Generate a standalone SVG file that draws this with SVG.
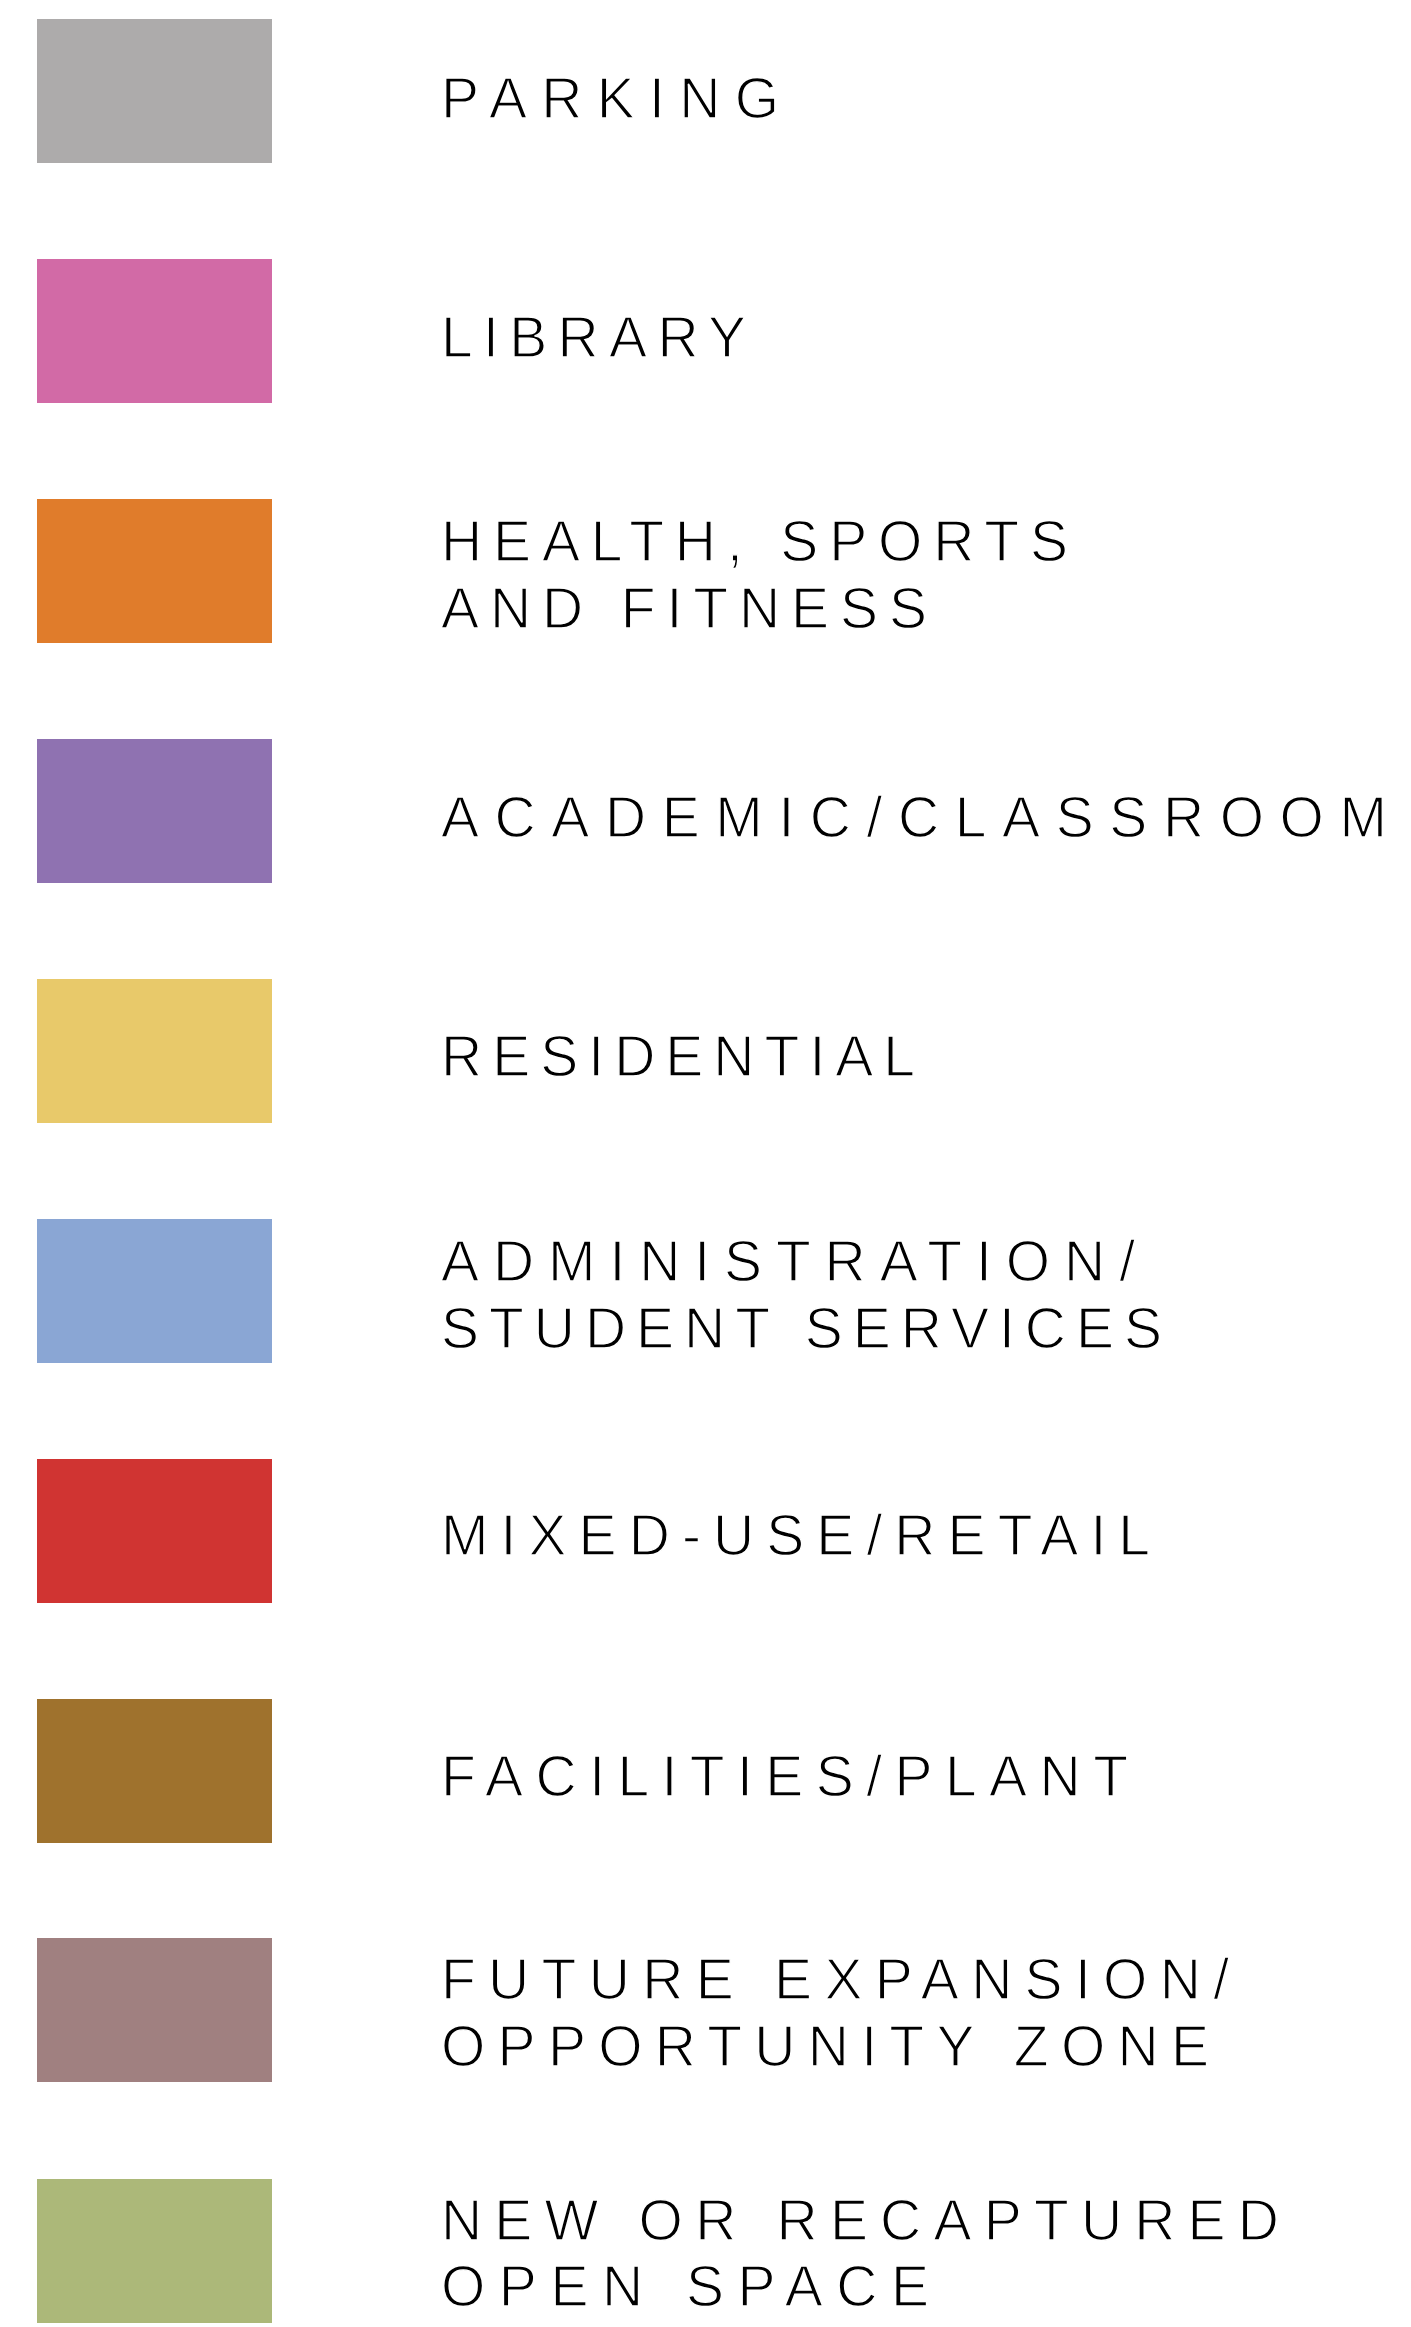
<svg xmlns="http://www.w3.org/2000/svg" width="1411" height="2327" viewBox="0 0 1411 2327">
<style>
.sw{stroke:none}
.lb{font-family:"Liberation Sans","DejaVu Sans",sans-serif;font-size:57px;fill:#000;stroke:#fff;stroke-width:1.4px;paint-order:fill stroke;}
</style>
<rect width="1411" height="2327" fill="#ffffff"/>
<g id="parking"><rect class="sw" x="37" y="19" width="235" height="144" fill="#ADABAB"/><text class="lb" x="441" y="118" textLength="338" lengthAdjust="spacing">PARKING</text></g>
<g id="library"><rect class="sw" x="37" y="259" width="235" height="144" fill="#D26AA6"/><text class="lb" x="441" y="357" textLength="305" lengthAdjust="spacing">LIBRARY</text></g>
<g id="health"><rect class="sw" x="37" y="499" width="235" height="144" fill="#E07C2B"/><text class="lb" x="441" y="561" textLength="627" lengthAdjust="spacing">HEALTH, SPORTS</text><text class="lb" x="441" y="628" textLength="486" lengthAdjust="spacing">AND FITNESS</text></g>
<g id="academic"><rect class="sw" x="37" y="739" width="235" height="144" fill="#8F72B1"/><text class="lb" x="441" y="837" textLength="946" lengthAdjust="spacing">ACADEMIC/CLASSROOM</text></g>
<g id="residential"><rect class="sw" x="37" y="979" width="235" height="144" fill="#E8C96A"/><text class="lb" x="441" y="1076" textLength="474" lengthAdjust="spacing">RESIDENTIAL</text></g>
<g id="admin"><rect class="sw" x="37" y="1219" width="235" height="144" fill="#8AA6D4"/><text class="lb" x="441" y="1281" textLength="694" lengthAdjust="spacing">ADMINISTRATION/</text><text class="lb" x="441" y="1348" textLength="721" lengthAdjust="spacing">STUDENT SERVICES</text></g>
<g id="mixed"><rect class="sw" x="37" y="1459" width="235" height="144" fill="#D03432"/><text class="lb" x="441" y="1555" textLength="709" lengthAdjust="spacing">MIXED-USE/RETAIL</text></g>
<g id="facilities"><rect class="sw" x="37" y="1699" width="235" height="144" fill="#9F722D"/><text class="lb" x="441" y="1796" textLength="687" lengthAdjust="spacing">FACILITIES/PLANT</text></g>
<g id="future"><rect class="sw" x="37" y="1938" width="235" height="144" fill="#A08080"/><text class="lb" x="441" y="1999" textLength="788" lengthAdjust="spacing">FUTURE EXPANSION/</text><text class="lb" x="441" y="2066" textLength="768" lengthAdjust="spacing">OPPORTUNITY ZONE</text></g>
<g id="openspace"><rect class="sw" x="37" y="2179" width="235" height="144" fill="#ACB879"/><text class="lb" x="441" y="2240" textLength="838" lengthAdjust="spacing">NEW OR RECAPTURED</text><text class="lb" x="441" y="2306" textLength="488" lengthAdjust="spacing">OPEN SPACE</text></g>
<g id="connectors"></g>
</svg>
